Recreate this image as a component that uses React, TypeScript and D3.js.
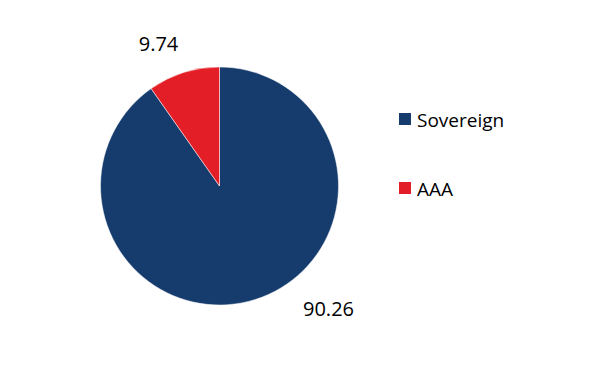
import React from "react";
import * as d3 from "d3";

const categories = ["Sovereign", "AAA"];
const values = [90.26, 9.74];
const valueLabels = ["90.26", "9.74"];
const colors = ["#163c6e", "#e31e26"];

export default function App() {
  const width = 607;
  const height = 387;
  const cx = 219.5;
  const cy = 186;
  const r = 119;
  const pie = d3.pie<number>().sort(null).value((d) => d)(values);
  const arc = d3.arc<d3.PieArcDatum<number>>().innerRadius(0).outerRadius(r);
  const font = "'Open Sans', 'Noto Sans', sans-serif";
  const labelPos = [
    [cx + 109, 316],
    [cx - 61, 51],
  ];
  return (
    <svg width={width} height={height} style={{ position: "absolute", left: 0, top: 0, background: "#fff" }}>
      <g transform={`translate(${cx},${cy})`}>
        {pie.map((d, i) => (
          <path key={i} d={arc(d) || ""} fill={colors[i]} stroke="#fff" strokeWidth={0.5} />
        ))}
      </g>
      {pie.map((d, i) => (
        <text key={i} x={labelPos[i][0]} y={labelPos[i][1]} textAnchor="middle" fontFamily={font} fontSize={20} fill="#000">
          {valueLabels[i]}
        </text>
      ))}
      {categories.map((c, i) => (
        <g key={c} transform={`translate(399,${113 + i * 69})`}>
          <rect width={12} height={12} fill={colors[i]} />
          <text x={18} y={13.5} fontFamily={font} fontSize={19} fill="#000">
            {c}
          </text>
        </g>
      ))}
    </svg>
  );
}
